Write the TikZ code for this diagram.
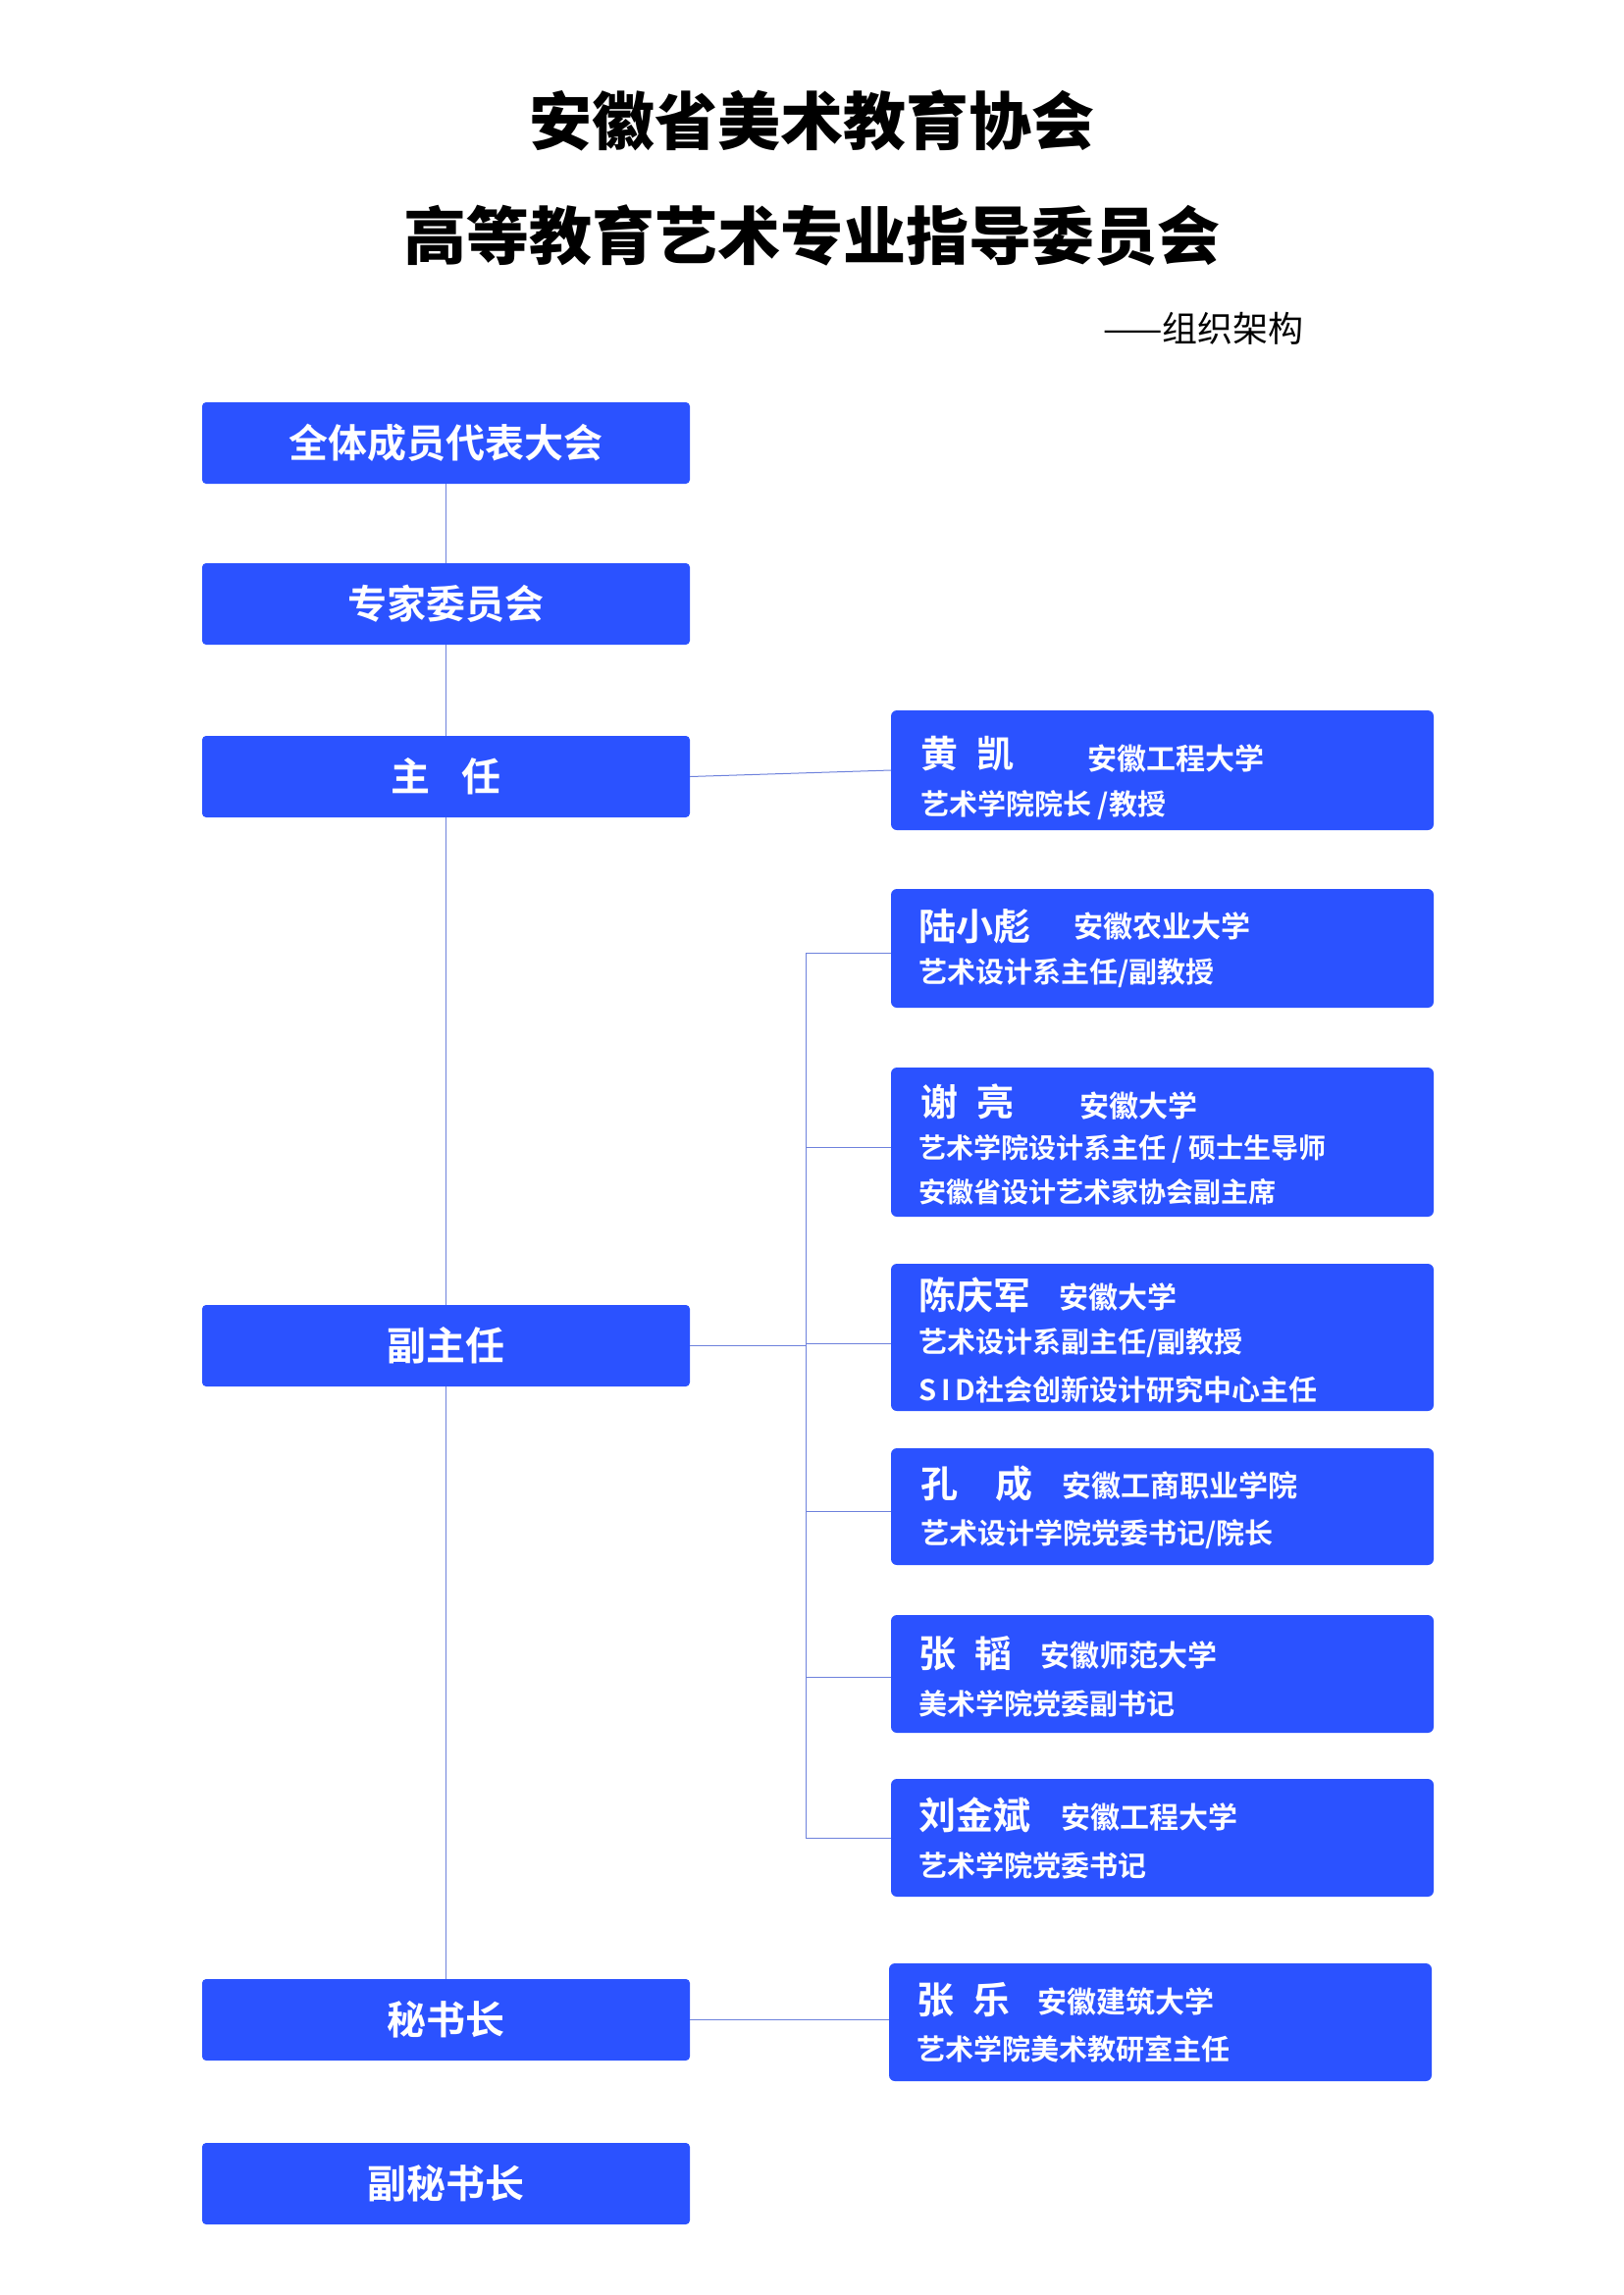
\documentclass[tikz,border=0pt]{standalone}
\usepackage{fontspec}
\setmainfont{Noto Sans CJK SC Bold}
\newfontfamily\blk{Noto Sans CJK SC Black}
\newfontfamily\reg{Noto Sans CJK SC}
\definecolor{boxblue}{RGB}{43,82,255}
\definecolor{lineblue}{RGB}{110,130,220}
\begin{document}
\begin{tikzpicture}[x=1pt,y=-1pt,
  lbox/.style={fill=boxblue,rounded corners=4pt,minimum width=497pt,minimum height=83pt,inner sep=0pt,text=white,font=\fontsize{40}{44}\selectfont},
  rbox/.style={fill=boxblue,rounded corners=6pt,inner sep=0pt},
  nm/.style={anchor=west,text=white,inner sep=0pt,font=\fontsize{38}{40}\selectfont},
  org/.style={anchor=west,text=white,inner sep=0pt,font=\fontsize{30}{32}\selectfont},
  sub/.style={anchor=west,text=white,inner sep=0pt,font=\fontsize{29}{31}\selectfont},
  conn/.style={draw=lineblue,line width=1pt}]
\useasboundingbox (0,0) rectangle (1654,2339);
\node[font=\blk\fontsize{64}{66}\selectfont] (t1) at (827,123) {安徽省美术教育协会};
\node[font=\blk\fontsize{64}{66}\selectfont] (t2) at (827,240) {高等教育艺术专业指导委员会};
\node[anchor=east,font=\reg\fontsize{36}{38}\selectfont] (t3) at (1332,335) {——组织架构};
% left column
\node[lbox] (a) at (454.5,451.5) {全体成员代表大会};
\node[lbox] (b) at (454.5,615.5) {专家委员会};
\node[lbox] (c) at (454.5,791.5) {主\hspace{0.8em}任};
\node[lbox] (d) at (454.5,1371.5) {副主任};
\node[lbox] (e) at (454.5,2058.5) {秘书长};
\node[lbox] (f) at (454.5,2225.5) {副秘书长};
% right boxes
\path[rbox] (908,724) rectangle (1461,846); \coordinate (r1) at (908,785);
\path[rbox] (908,906) rectangle (1461,1027); \coordinate (r2) at (908,971);
\path[rbox] (908,1088) rectangle (1461,1240); \coordinate (r3) at (908,1169);
\path[rbox] (908,1288) rectangle (1461,1438); \coordinate (r4) at (908,1369);
\path[rbox] (908,1476) rectangle (1461,1595); \coordinate (r5) at (908,1540);
\path[rbox] (908,1646) rectangle (1461,1766); \coordinate (r6) at (908,1709);
\path[rbox] (908,1813) rectangle (1461,1933); \coordinate (r7) at (908,1873);
\path[rbox] (906,2001) rectangle (1459,2121); \coordinate (r8) at (906,2058.5);
% texts
\node[nm] (n1) at (938,768) {黄\hspace{0.5em}凯};
\node[org] (o1) at (1108,773) {安徽工程大学};
\node[sub] (s1) at (938,821) {艺术学院院长 /教授};
\node[nm] (n2) at (936,944) {陆小彪};
\node[org] (o2) at (1094,944) {安徽农业大学};
\node[sub] (s2) at (936,992) {艺术设计系主任/副教授};
\node[nm] (n3) at (938,1123) {谢\hspace{0.5em}亮};
\node[org] (o3) at (1100,1127) {安徽大学};
\node[sub,font=\fontsize{28}{30}\selectfont] (s3) at (936,1171) {艺术学院设计系主任 / 硕士生导师};
\node[sub,font=\fontsize{28}{30}\selectfont] (s3b) at (936,1215) {安徽省设计艺术家协会副主席};
\node[nm] (n4) at (936,1320) {陈庆军};
\node[org] (o4) at (1079,1322) {安徽大学};
\node[sub] (s4) at (936,1369) {艺术设计系副主任/副教授};
\node[sub] (s4b) at (936,1416) {S\,I\,D社会创新设计研究中心主任};
\node[nm] (n5) at (938,1512) {孔\hspace{1em}成};
\node[org] (o5) at (1082,1514) {安徽工商职业学院};
\node[sub] (s5) at (938,1564) {艺术设计学院党委书记/院长};
\node[nm] (n6) at (936,1685) {张\hspace{0.5em}韬};
\node[org] (o6) at (1060,1687) {安徽师范大学};
\node[sub] (s6) at (936,1736) {美术学院党委副书记};
\node[nm] (n7) at (936,1850) {刘金斌};
\node[org] (o7) at (1081,1852) {安徽工程大学};
\node[sub] (s7) at (936,1901) {艺术学院党委书记};
\node[nm] (n8) at (934,2038) {张\hspace{0.5em}乐};
\node[org] (o8) at (1057,2040) {安徽建筑大学};
\node[sub] (s8) at (934,2088) {艺术学院美术教研室主任};
% connectors
\coordinate (bt) at (821,971);
\coordinate (bb) at (821,1873);
\coordinate (bm) at (821,1371.5);
\draw[conn] (a.south) -- (b.north);
\draw[conn] (b.south) -- (c.north);
\draw[conn] (c.south) -- (d.north);
\draw[conn] (d.south) -- (e.north);
\draw[conn] (c.east) -- (r1);
\draw[conn] (d.east) -- (bm);
\draw[conn] (bt) -- (bb);
\foreach \r in {r2,r3,r4,r5,r6,r7} \draw[conn] (bt|-\r) -- (\r);
\draw[conn] (e.east) -- (r8);
\end{tikzpicture}
\end{document}
